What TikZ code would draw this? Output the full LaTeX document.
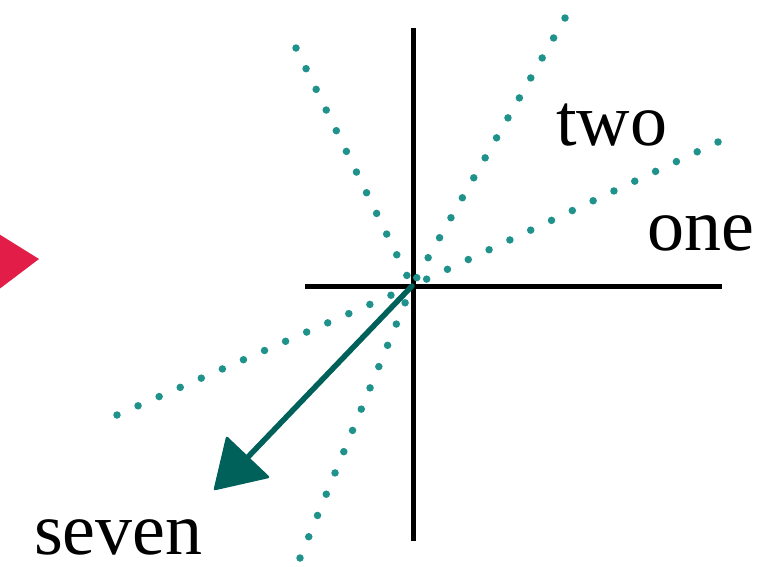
\documentclass[tikz,border=0pt]{standalone}
\usepackage{fontspec}
\setmainfont{Liberation Serif}
\usetikzlibrary{calc}
\begin{document}
\begin{tikzpicture}[x=1pt,y=-1pt,
  axis/.style={line width=5pt,black},
  dotray/.style={line width=7.5pt,line cap=round,dash pattern=on 0pt off 23pt,color=dotteal},
  vec/.style={line width=5.5pt,color=darkteal,line cap=round},
  lbl/.style={font=\fontsize{74}{80}\selectfont,inner sep=0pt,anchor=base west}]
\definecolor{dotteal}{RGB}{32,146,140}
\definecolor{darkteal}{RGB}{0,96,90}
\definecolor{crimson}{RGB}{226,30,72}
\useasboundingbox (0,0) rectangle (769,566);
\coordinate (O) at (412,286);
\coordinate (r1) at (718,142);
\coordinate (r2) at (565,18);
\coordinate (r3) at (296,48);
\coordinate (r4) at (117,415);
\coordinate (r5) at (300,558);
\coordinate (vtop) at (413,28);
\coordinate (vbot) at (413,541);
\coordinate (hl) at (305,286);
\coordinate (hr) at (722,286);
\coordinate (tip) at (215,489);
\coordinate (hA) at (227,438);
\coordinate (hB) at (268,477);
% axes
\draw[axis] (vtop) -- (vbot);
\draw[axis] (hl) -- (hr);
% dotted rays
\foreach \e in {r1,r2,r3,r4,r5} \draw[dotray] (\e) -- (O);
% vector
\draw[vec] (O) -- ($(hA)!0.5!(hB)$);
\fill[darkteal,draw=darkteal,line width=2.5pt,line join=round] (hA) -- (tip) -- (hB) -- cycle;
% red arrowhead at left edge
\fill[crimson] (-6,231) -- (39,259) -- (-6,293) -- cycle;
% labels
\node[lbl] (two) at (556,145) {two};
\node[lbl] (one) at (647,250) {one};
\node[lbl] (seven) at (34,554) {seven};
\end{tikzpicture}
\end{document}
